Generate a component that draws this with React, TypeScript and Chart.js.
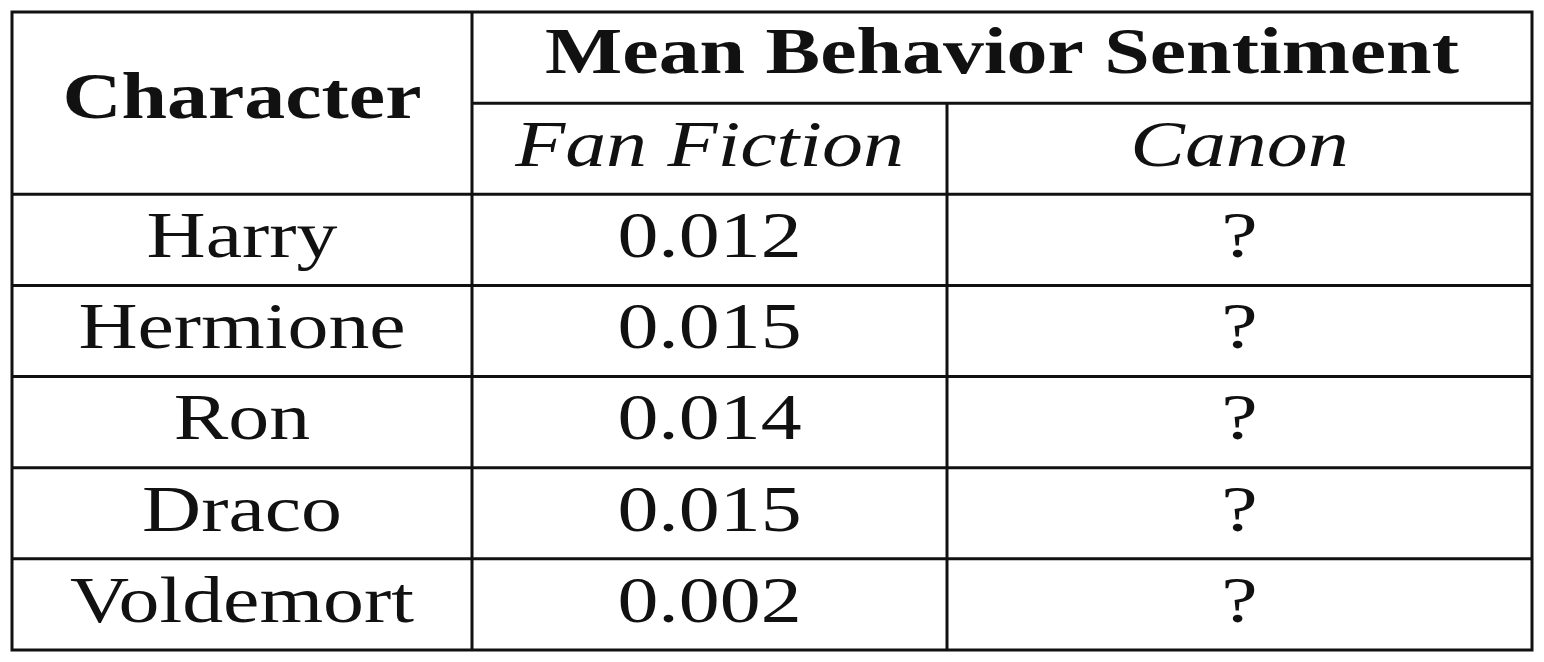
import { useEffect, useRef } from 'react';
import { Chart, registerables } from 'chart.js';

Chart.register(...registerables);

const characters = ['Harry', 'Hermione', 'Ron', 'Draco', 'Voldemort'];
const fanFiction = ['0.012', '0.015', '0.014', '0.015', '0.002'];
const canon = ['?', '?', '?', '?', '?'];
const headerTop = ['Character', 'Mean Behavior Sentiment'];
const headerSub = ['Fan Fiction', 'Canon'];

// column edges in x-scale units, rows are one unit each on y
const colEdges = [0, 460, 935, 1520];
const rowCount = 2 + characters.length;

const tablePlugin = {
  id: 'table',
  afterDraw(chart: Chart) {
    const { ctx } = chart;
    const x = chart.scales.x;
    const y = chart.scales.y;
    const px = (v: number) => x.getPixelForValue(v);
    const py = (v: number) => y.getPixelForValue(v);

    ctx.save();
    ctx.strokeStyle = '#111';
    ctx.lineWidth = 3;
    const line = (x1: number, y1: number, x2: number, y2: number) => {
      ctx.beginPath();
      ctx.moveTo(x1, y1);
      ctx.lineTo(x2, y2);
      ctx.stroke();
    };
    // outer border
    ctx.strokeRect(px(0), py(0), px(colEdges[3]) - px(0), py(rowCount) - py(0));
    // horizontal lines
    line(px(colEdges[1]), py(1), px(colEdges[3]), py(1));
    for (let r = 2; r < rowCount; r++) line(px(0), py(r), px(colEdges[3]), py(r));
    // vertical lines
    line(px(colEdges[1]), py(0), px(colEdges[1]), py(rowCount));
    line(px(colEdges[2]), py(1), px(colEdges[2]), py(rowCount));

    ctx.fillStyle = '#111';
    ctx.textAlign = 'center';
    ctx.textBaseline = 'middle';
    const mid = (a: number, b: number) => (px(a) + px(b)) / 2;
    const serif = '"Liberation Serif", "DejaVu Serif", serif';
    // stretch text horizontally to mimic the wider LaTeX face
    const stretch = 1.24;
    const text = (s: string, cx: number, cy: number) => {
      ctx.save();
      ctx.translate(cx, cy);
      ctx.scale(stretch, 1);
      ctx.fillText(s, 0, 0);
      ctx.restore();
    };

    ctx.font = `bold 66px ${serif}`;
    text(headerTop[0], mid(colEdges[0], colEdges[1]), py(1) - 2);
    text(headerTop[1], mid(colEdges[1], colEdges[3]), py(0.5) - 2);
    ctx.font = `italic 66px ${serif}`;
    text(headerSub[0], mid(colEdges[1], colEdges[2]), py(1.5));
    text(headerSub[1], mid(colEdges[2], colEdges[3]), py(1.5));

    ctx.font = `66px ${serif}`;
    characters.forEach((name, i) => {
      const cy = py(2.5 + i);
      text(name, mid(colEdges[0], colEdges[1]), cy);
      text(fanFiction[i], mid(colEdges[1], colEdges[2]), cy);
      text(canon[i], mid(colEdges[2], colEdges[3]), cy);
    });
    ctx.restore();
  },
};

export default function App() {
  const canvasRef = useRef<HTMLCanvasElement>(null);

  useEffect(() => {
    document.body.style.margin = '0';
    if (!canvasRef.current) return;
    const chart = new Chart(canvasRef.current, {
      type: 'scatter',
      data: { datasets: [{ data: [] }] },
      options: {
        animation: false,
        responsive: false,
        layout: { padding: { left: 12, right: 12, top: 12, bottom: 12 } },
        scales: {
          x: { type: 'linear', min: colEdges[0], max: colEdges[3], display: false },
          y: { type: 'linear', min: 0, max: rowCount, reverse: true, display: false },
        },
        plugins: { legend: { display: false }, tooltip: { enabled: false } },
      },
      plugins: [tablePlugin],
    });
    return () => chart.destroy();
  }, []);

  return (
    <div style={{ width: 1544, height: 662, background: '#fff' }}>
      <canvas ref={canvasRef} width={1544} height={662} />
    </div>
  );
}
